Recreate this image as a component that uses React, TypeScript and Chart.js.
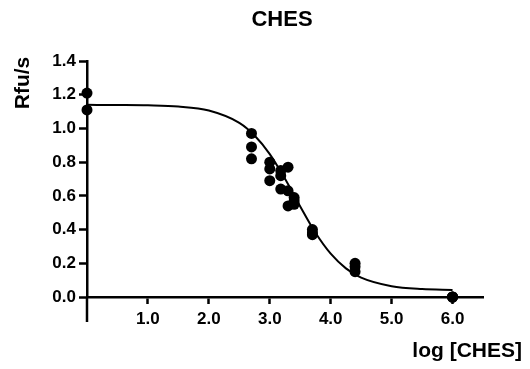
import React, { useEffect, useRef } from "react";
import { Chart, registerables } from "chart.js";

Chart.register(...registerables);

// Measured data points (log [CHES] vs Rfu/s)
const DOSE_X = [0, 0, 2.7, 2.7, 2.7, 3.0, 3.0, 3.0, 3.18, 3.18, 3.18, 3.3, 3.3, 3.3, 3.4, 3.4, 3.4, 3.7, 3.7, 3.7, 4.4, 4.4, 4.4, 6.0, 6.0, 6.0];
const RATE_Y = [1.21, 1.11, 0.97, 0.89, 0.82, 0.8, 0.76, 0.69, 0.75, 0.72, 0.64, 0.77, 0.63, 0.54, 0.59, 0.57, 0.55, 0.4, 0.38, 0.37, 0.2, 0.18, 0.15, 0.0, 0.0, 0.0];

// Fitted curve
const CURVE_X = [0, 0.5, 1, 1.5, 2, 2.5, 2.75, 3, 3.25, 3.5, 3.75, 4, 4.25, 4.5, 5, 5.5, 6];
const CURVE_Y = [1.14, 1.139, 1.137, 1.13, 1.106, 1.033, 0.958, 0.848, 0.701, 0.537, 0.381, 0.257, 0.17, 0.115, 0.064, 0.047, 0.042];

const X_TICKS = [1, 2, 3, 4, 5, 6];
const Y_TICKS = [0, 0.2, 0.4, 0.6, 0.8, 1.0, 1.2, 1.4];

const TITLE = "CHES";
const X_TITLE = "log [CHES]";
const Y_TITLE = "Rfu/s";

const FONT = "'Liberation Sans', Arial, sans-serif";

const titlesPlugin = {
  id: "titlesPlugin",
  afterDraw(chart: any) {
    const ctx = chart.ctx;
    const area = chart.chartArea;
    ctx.save();
    // y-axis extension below zero
    ctx.strokeStyle = "#000";
    ctx.lineWidth = 2.5;
    ctx.beginPath();
    ctx.moveTo(area.left, area.bottom);
    ctx.lineTo(area.left, area.bottom + 25);
    ctx.stroke();

    ctx.fillStyle = "#000";
    ctx.font = `bold 22px ${FONT}`;
    ctx.textAlign = "center";
    ctx.textBaseline = "middle";
    ctx.fillText(TITLE, 282, 20);

    ctx.font = `bold 21px ${FONT}`;
    ctx.textAlign = "right";
    ctx.textBaseline = "alphabetic";
    ctx.fillText(X_TITLE, 522, 357);

    ctx.translate(23, 83);
    ctx.rotate(-Math.PI / 2);
    ctx.textAlign = "center";
    ctx.textBaseline = "middle";
    ctx.fillText(Y_TITLE, 0, 0);
    ctx.restore();
  },
};

export default function App() {
  const ref = useRef<HTMLCanvasElement | null>(null);

  useEffect(() => {
    if (!ref.current) return;
    const points = DOSE_X.map((x, i) => ({ x, y: RATE_Y[i] }));
    const curve = CURVE_X.map((x, i) => ({ x, y: CURVE_Y[i] }));
    const chart = new Chart(ref.current, {
      type: "scatter",
      data: {
        datasets: [
          {
            data: curve,
            showLine: true,
            borderColor: "#000",
            borderWidth: 2,
            pointRadius: 0,
            cubicInterpolationMode: "monotone",
            clip: false,
          } as any,
          {
            data: points,
            backgroundColor: "#000",
            borderColor: "#000",
            borderWidth: 0,
            pointRadius: 5.5,
            clip: false,
          } as any,
        ],
      },
      plugins: [titlesPlugin],
      options: {
        animation: false,
        responsive: false,
        maintainAspectRatio: false,
        layout: { padding: { left: 0, top: 61, right: 47, bottom: 0 } },
        plugins: { legend: { display: false }, tooltip: { enabled: false }, title: { display: false } },
        scales: {
          x: {
            type: "linear",
            position: "bottom",
            min: 0,
            max: 6.5,
            afterBuildTicks: (s: any) => {
              s.ticks = X_TICKS.map((v) => ({ value: v }));
            },
            afterFit: (s: any) => {
              s.height = 72;
            },
            border: { display: true, color: "#000", width: 2.5 },
            grid: { display: true, drawOnChartArea: false, drawTicks: true, tickLength: 7, tickColor: "#000", tickWidth: 2.5 },
            ticks: {
              color: "#000",
              font: { family: FONT, size: 17, weight: "bold" },
              padding: 5,
              callback: (v: any) => Number(v).toFixed(1),
            },
          },
          y: {
            type: "linear",
            min: 0,
            max: 1.4,
            afterBuildTicks: (s: any) => {
              s.ticks = Y_TICKS.map((v) => ({ value: v }));
            },
            afterFit: (s: any) => {
              s.width = 87;
            },
            border: { display: true, color: "#000", width: 2.5 },
            grid: { display: true, drawOnChartArea: false, drawTicks: true, tickLength: 8, tickColor: "#000", tickWidth: 2.5 },
            ticks: {
              color: "#000",
              font: { family: FONT, size: 17, weight: "bold" },
              padding: 3,
              callback: (v: any) => Number(v).toFixed(1),
            },
          },
        },
      } as any,
    });
    return () => chart.destroy();
  }, []);

  return (
    <div style={{ position: "fixed", left: 0, top: 0, width: 530, height: 369, background: "#fff" }}>
      <canvas ref={ref} width={530} height={369} style={{ width: 530, height: 369, display: "block" }} />
    </div>
  );
}
